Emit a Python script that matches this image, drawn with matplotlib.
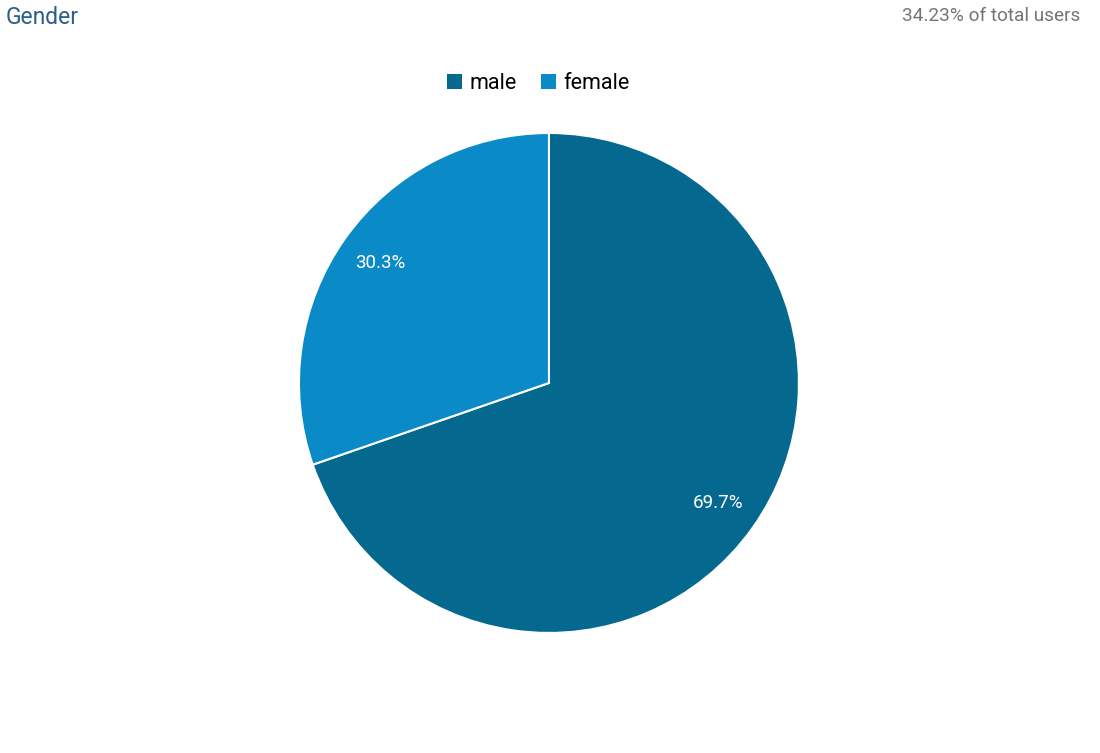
import matplotlib.pyplot as plt
from matplotlib.patches import Patch

labels = ['male', 'female']
values = [69.7, 30.3]
colors = ['#05698f', '#0a8ac6']

plt.rcParams['font.family'] = ['Roboto', 'DejaVu Sans']

fig = plt.figure(figsize=(11, 7.53), dpi=100)
ax = fig.add_axes([0.2718, 0.1594, 0.4545, 0.664])

wedges, texts, autotexts = ax.pie(values, colors=colors, startangle=90, counterclock=False,
                                  autopct='%.1f%%', pctdistance=0.83,
                                  wedgeprops=dict(edgecolor='white', linewidth=1.5),
                                  textprops=dict(color='white', fontsize=13.5))
ax.set_xlim(-1, 1)
ax.set_ylim(-1, 1)
ax.set_aspect('equal')

handles = [Patch(facecolor=c, edgecolor='none') for c in colors]
fig.legend(handles, labels, loc='center', bbox_to_anchor=(0.4895, 0.889), ncol=2, frameon=False,
           fontsize=15.5, handlelength=0.7, handleheight=0.7, handletextpad=0.35, columnspacing=1.1)

fig.text(0.005, 0.977, 'Gender', fontsize=16.5, color='#2c5e8c', ha='left', va='center')
fig.text(0.982, 0.979, '34.23% of total users', fontsize=13.7, color='#757575', ha='right', va='center')

fig.savefig('out.png', dpi=100, facecolor='white')
